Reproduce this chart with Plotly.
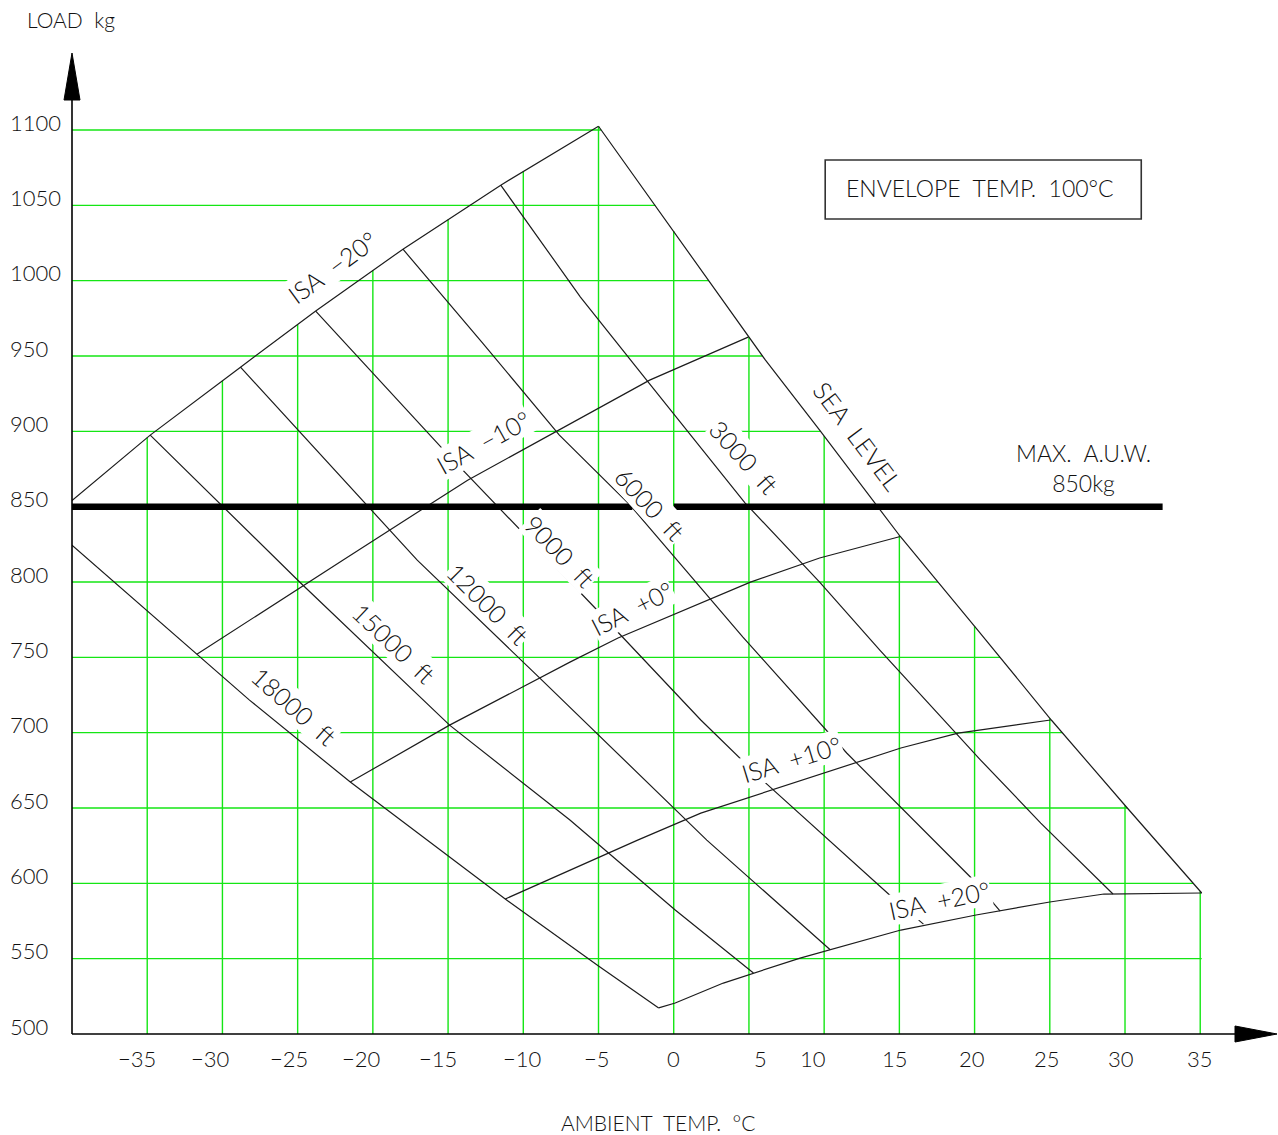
import numpy as np
import plotly.graph_objects as go

# Axis ticks: ambient temperature (°C) and load (kg)
temp_ticks = [-35, -30, -25, -20, -15, -10, -5, 0, 5, 10, 15, 20, 25, 30, 35]
load_ticks = [500, 550, 600, 650, 700, 750, 800, 850, 900, 950, 1000, 1050, 1100]
temp_origin = -40
load_origin = 500

# ISA deviation curves (temperature °C, load kg)
isa_m20_temp = [-40.0, -34.8, -28.8, -23.8, -18.0, -11.5, -5.0]
isa_m20_load = [854.0, 897.5, 942.6, 979.8, 1020.9, 1063.4, 1102.5]
isa_m10_temp = [-31.7, -28.2, -22.0, -13.7, -7.6, -1.6, 4.95]
isa_m10_load = [752.0, 774.7, 814.5, 867.6, 900.8, 934.0, 962.5]
isa_0_temp = [-21.5, -14.9, -6.9, -3.7, 5.1, 9.7, 15.06]
isa_0_load = [667.2, 705.0, 746.8, 762.8, 799.9, 815.9, 830.2]
isa_p10_temp = [-11.2, -2.4, 1.8, 5.1, 10.1, 15.1, 18.9, 25.05]
isa_p10_load = [589.6, 628.7, 646.6, 657.3, 673.9, 689.8, 699.7, 708.4]
isa_p20_temp = [-1.0, 0.1, 3.3, 5.3, 8.4, 15.1, 20.1, 25.0, 28.6, 35.1]
isa_p20_load = [517.3, 520.6, 533.8, 540.5, 550.4, 569.0, 579.0, 587.6, 592.9, 593.6]

# Pressure altitude lines (temperature °C, load kg)
sea_level_temp = [-5.0, 0.1, 6.1, 9.7, 15.06, 20.1, 25.1, 30.15, 35.1]
sea_level_load = [1102.5, 1031.5, 947.2, 900.8, 830.2, 769.4, 708.4, 650.0, 593.6]
ft3000_temp = [-11.5, -6.2, -1.8, 4.75, 9.7, 13.7, 20.4, 24.4, 29.2]
ft3000_load = [1063.4, 989.1, 934.0, 852.4, 799.9, 754.8, 681.8, 640.0, 592.9]
ft6000_temp = [-18.0, -12.7, -7.6, -2.9, 4.6, 11.5, 20.05, 21.7]
ft6000_load = [1020.9, 958.5, 897.5, 851.0, 763.4, 686.5, 600.9, 581.6]
ft9000_temp = [-23.8, -15.1, -5.1, 1.8, 5.9, 14.5, 16.6]
ft9000_load = [979.8, 885.5, 781.4, 708.4, 668.5, 590.9, 572.9]
ft12000_temp = [-28.8, -17.05, -8.9, 2.2, 10.4]
ft12000_load = [942.6, 814.5, 736.2, 628.7, 555.9]
ft15000_temp = [-34.8, -24.8, -14.9, -6.9, 0.1, 5.3]
ft15000_load = [897.5, 799.3, 705.0, 642.0, 582.3, 540.5]
ft18000_temp = [-40.0, -28.2, -21.5, -15.5, -11.2, -5.0, -1.0]
ft18000_load = [824.5, 721.6, 667.2, 622.1, 589.6, 545.1, 517.3]

# Maximum all-up weight line (broken where the 6000 ft label sits)
max_auw = 850
auw_temp = [-40.0, -2.75, None, 0.0, 32.5]

LINE = "#1c1c1c"
GREEN = "#14e614"
FONT = "Lato, Liberation Sans, sans-serif"
INK = "#111111"

def font(size):
    return dict(family=FONT, size=size, color=INK, weight=300)

fig = go.Figure()

# Green grid clipped to the envelope outline
vx, vy = [], []
for t in temp_ticks:
    if t <= sea_level_temp[0]:
        top = float(np.interp(t, isa_m20_temp, isa_m20_load))
    else:
        top = float(np.interp(t, sea_level_temp, sea_level_load))
    vx += [t, t, None]
    vy += [load_origin, top, None]
hx, hy = [], []
for w in load_ticks[1:]:
    if w >= min(sea_level_load):
        right = float(np.interp(w, sea_level_load[::-1], sea_level_temp[::-1]))
    else:
        right = sea_level_temp[-1]
    hx += [temp_origin, right, None]
    hy += [w, w, None]
for gx, gy in ((vx, vy), (hx, hy)):
    fig.add_trace(go.Scatter(x=gx, y=gy, mode="lines", hoverinfo="skip",
                             line=dict(color=GREEN, width=1.4)))

# Envelope curves
curves = [
    (isa_m20_temp, isa_m20_load), (isa_m10_temp, isa_m10_load),
    (isa_0_temp, isa_0_load), (isa_p10_temp, isa_p10_load),
    (isa_p20_temp, isa_p20_load), (sea_level_temp, sea_level_load),
    (ft3000_temp, ft3000_load), (ft6000_temp, ft6000_load),
    (ft9000_temp, ft9000_load), (ft12000_temp, ft12000_load),
    (ft15000_temp, ft15000_load), (ft18000_temp, ft18000_load),
]
for cx, cy in curves:
    fig.add_trace(go.Scatter(x=cx, y=cy, mode="lines", hoverinfo="skip",
                             line=dict(color=LINE, width=1.2)))

fig.add_trace(go.Scatter(x=auw_temp, y=[max_auw if t is not None else None for t in auw_temp],
                         mode="lines", hoverinfo="skip",
                         line=dict(color="black", width=6.5)))

shapes = [
    # axes
    dict(type="line", xref="paper", yref="paper", x0=0, x1=0, y0=0, y1=0.98,
         line=dict(color="black", width=1.6)),
    dict(type="line", xref="paper", yref="paper", x0=0, x1=0.98, y0=0, y1=0,
         line=dict(color="black", width=1.6)),
    # arrow heads
    dict(type="path", xref="paper", yref="paper", xsizemode="pixel", ysizemode="pixel",
         xanchor=0, yanchor=1, path="M-8,-47 L8,-47 L0,0 Z",
         fillcolor="black", line=dict(color="black", width=1)),
    dict(type="path", xref="paper", yref="paper", xsizemode="pixel", ysizemode="pixel",
         xanchor=1, yanchor=0, path="M-1,0 L-43,8 L-43,-8 Z",
         fillcolor="black", line=dict(color="black", width=1)),
    # envelope temperature box
    dict(type="rect", xref="x", yref="y", x0=10.07, x1=31.08, y0=1040.9, y1=1080.1,
         line=dict(color="#333333", width=1.6)),
]

NB = "\u00a0"
# horizontal nudges of the temperature labels (px)
temp_label_shift = [-10, -12, -9, -12, -10, -1, -2, 0, 12, -11, -4, -3, -3, -4, 0]

annotations = []
for w in load_ticks:
    annotations.append(dict(xref="paper", x=0, xshift=-64, xanchor="left",
                            yref="y", y=w, yanchor="middle", yshift=8,
                            text=str(w), showarrow=False, font=font(22)))
for t, dx in zip(temp_ticks, temp_label_shift):
    annotations.append(dict(xref="x", x=t, xanchor="center", xshift=dx,
                            yref="paper", y=0, yanchor="middle", yshift=-24,
                            text=str(t).replace("-", "\u2212"), showarrow=False,
                            font=font(22)))

line_labels = [
    ("18000" + NB + NB + "ft", -25.23, 717.7, 41.5),
    ("15000" + NB + NB + "ft", -18.58, 759.8, 43.5),
    ("12000" + NB + NB + "ft", -12.30, 785.7, 45),
    ("9000" + NB + NB + "ft", -7.55, 820.6, 46),
    ("6000" + NB + NB + "ft", -1.56, 851.8, 47),
    ("3000" + NB + NB + "ft", 4.69, 883.0, 48),
    ("SEA" + NB + NB + "LEVEL", 12.26, 896.9, 53),
    ("ISA" + NB + NB + "\u221220°", -22.70, 1009.1, -36),
    ("ISA" + NB + NB + "\u221210°", -12.66, 892.9, -29),
    ("ISA" + NB + NB + "+0°", -2.76, 782.7, -27),
    ("ISA" + NB + NB + "+10°", 7.81, 682.5, -17),
    ("ISA" + NB + NB + "+20°", 17.65, 588.9, -12),
]
for text, x, y, ang in line_labels:
    annotations.append(dict(xref="x", yref="y", x=x, y=y, text=text, textangle=ang,
                            showarrow=False, bgcolor="white", borderpad=0,
                            font=font(25)))

annotations += [
    dict(xref="x", yref="y", x=27.22, y=875.7,
         text="MAX." + NB + NB + "A.U.W.<br>850kg", showarrow=False, align="center",
         font=font(23)),
    dict(xref="x", yref="y", x=20.37, y=1061.5,
         text="ENVELOPE" + NB + NB + "TEMP." + NB + NB + "100°C", showarrow=False,
         font=font(23)),
    dict(xref="paper", x=0, xshift=-47, xanchor="left",
         yref="paper", y=1, yshift=34, yanchor="middle",
         text="LOAD" + NB + NB + "kg", showarrow=False, font=font(21)),
    dict(xref="x", x=-1.03, xanchor="center",
         yref="paper", y=0, yshift=-88, yanchor="middle",
         text="AMBIENT" + NB + NB + "TEMP." + NB + NB + "°C", showarrow=False,
         font=font(21)),
]

axis_common = dict(showgrid=False, zeroline=False, showticklabels=False,
                   showline=False, ticks="", fixedrange=True)
fig.update_layout(
    width=1278, height=1135,
    margin=dict(l=72, r=0, t=53, b=101, autoexpand=False),
    paper_bgcolor="white", plot_bgcolor="white",
    showlegend=False,
    xaxis=dict(range=[temp_origin, temp_origin + 1206 / 15.043], **axis_common),
    yaxis=dict(range=[load_origin, load_origin + 981 / 1.50667], **axis_common),
    shapes=shapes,
    annotations=annotations,
)

fig.write_html("out.html")
